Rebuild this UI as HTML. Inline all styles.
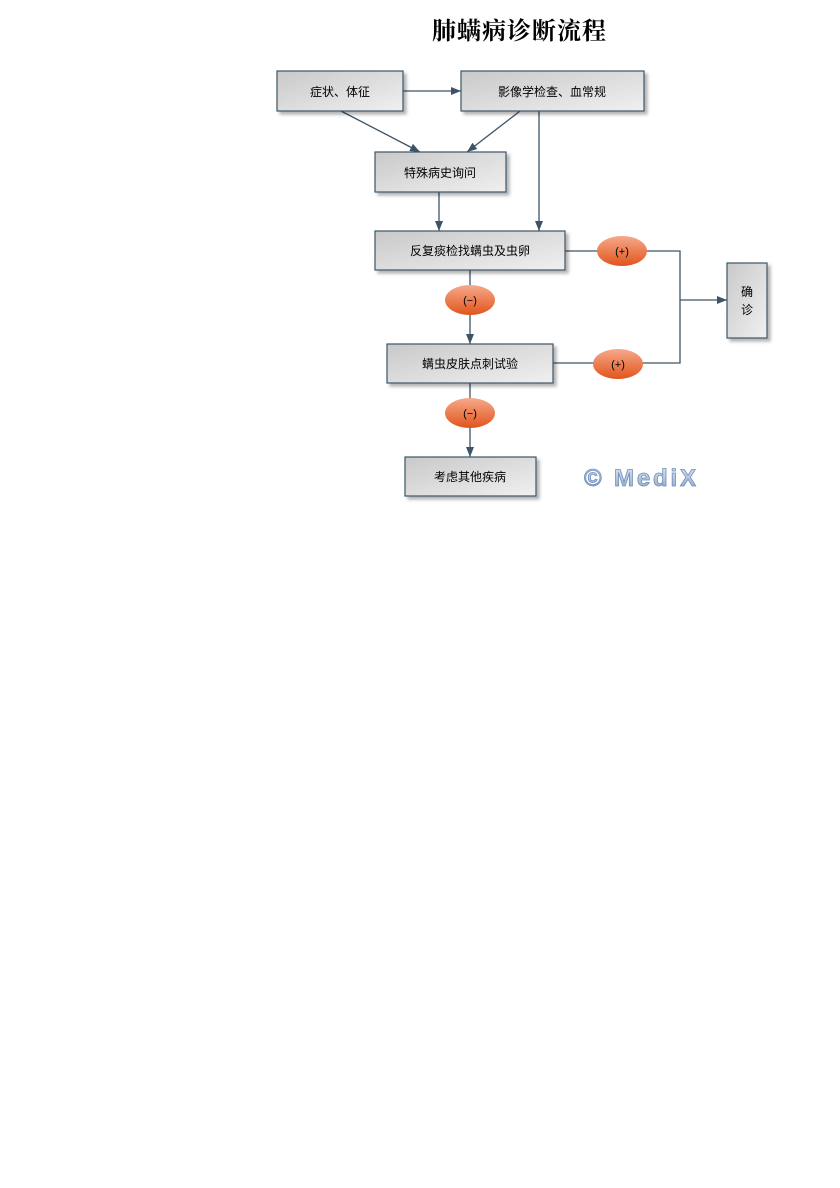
<!DOCTYPE html>
<html><head><meta charset="utf-8"><style>
body{margin:0;background:#fff;width:840px;height:1188px;overflow:hidden}
</style></head><body>
<svg width="840" height="1188" xmlns="http://www.w3.org/2000/svg" style="position:absolute;left:0;top:0">
<defs>
<linearGradient id="g" x1="0" y1="0" x2="1" y2="1"><stop offset="0" stop-color="#c9c9c9"/><stop offset="1" stop-color="#f0f0f0"/></linearGradient>
<linearGradient id="o" x1="0" y1="0" x2="0" y2="1"><stop offset="0" stop-color="#f6a98a"/><stop offset="1" stop-color="#e2541c"/></linearGradient>
<linearGradient id="m" x1="0" y1="0" x2="0" y2="1"><stop offset="0" stop-color="#dfe8f5"/><stop offset="1" stop-color="#8aa4cc"/></linearGradient>
<marker id="a" markerWidth="10" markerHeight="8" refX="10" refY="4" orient="auto" markerUnits="userSpaceOnUse"><path d="M0,0L10,4L0,8z" fill="#3d5468"/></marker>
<filter id="s"><feDropShadow dx="3" dy="3" stdDeviation="1.5" flood-color="#000" flood-opacity="0.3"/></filter>
</defs>
<text x="519" y="39" font-family="Liberation Serif,'Noto Serif CJK SC',serif" font-size="24" font-weight="bold" text-anchor="middle" textLength="174">肺螨病诊断流程</text>
<g stroke="#3d5468" stroke-width="1.3" fill="none">
<line x1="403" y1="91" x2="461" y2="91" marker-end="url(#a)"/>
<line x1="341" y1="111" x2="420" y2="152" marker-end="url(#a)"/>
<line x1="520" y1="111" x2="467" y2="152" marker-end="url(#a)"/>
<line x1="539" y1="111" x2="539" y2="231" marker-end="url(#a)"/>
<line x1="439" y1="192" x2="439" y2="231" marker-end="url(#a)"/>
<line x1="470" y1="270" x2="470" y2="344" marker-end="url(#a)"/>
<line x1="470" y1="383" x2="470" y2="457" marker-end="url(#a)"/>
<polyline points="565,251 680,251 680,363 553,363"/>
<line x1="680" y1="300" x2="727" y2="300" marker-end="url(#a)"/>
</g>
<g stroke="#3d5468" stroke-width="1.2" fill="url(#g)" filter="url(#s)">
<rect x="277" y="71" width="126" height="40"/>
<rect x="461" y="71" width="183" height="40"/>
<rect x="375" y="152" width="131" height="40"/>
<rect x="375" y="231" width="190" height="39"/>
<rect x="387" y="344" width="166" height="39"/>
<rect x="405" y="457" width="131" height="39"/>
<rect x="727" y="263" width="40" height="75"/>
</g>
<g fill="url(#o)">
<ellipse cx="622" cy="251" rx="25" ry="15"/>
<ellipse cx="470" cy="300" rx="25" ry="15"/>
<ellipse cx="618" cy="364" rx="25" ry="15"/>
<ellipse cx="470" cy="413" rx="25" ry="15"/>
</g>
<g font-family="Liberation Sans,'Noto Sans CJK SC',sans-serif" font-size="12" text-anchor="middle" fill="#000">
<text x="340" y="96">症状、体征</text>
<text x="552" y="96">影像学检查、血常规</text>
<text x="440" y="177">特殊病史询问</text>
<text x="470" y="255">反复痰检找螨虫及虫卵</text>
<text x="470" y="368">螨虫皮肤点刺试验</text>
<text x="470" y="481">考虑其他疾病</text>
<text x="747" y="296">确</text>
<text x="747" y="314">诊</text>
<text x="622" y="255" font-size="11">(+)</text>
<text x="470" y="304" font-size="11">(−)</text>
<text x="618" y="368" font-size="11">(+)</text>
<text x="470" y="417" font-size="11">(−)</text>
</g>
<text x="640" y="486" font-family="Liberation Sans,sans-serif" font-size="24" font-weight="bold" text-anchor="middle" textLength="112" fill="url(#m)" stroke="#6f8db8" stroke-width="0.8">© MediX</text>
</svg>
</body></html>
